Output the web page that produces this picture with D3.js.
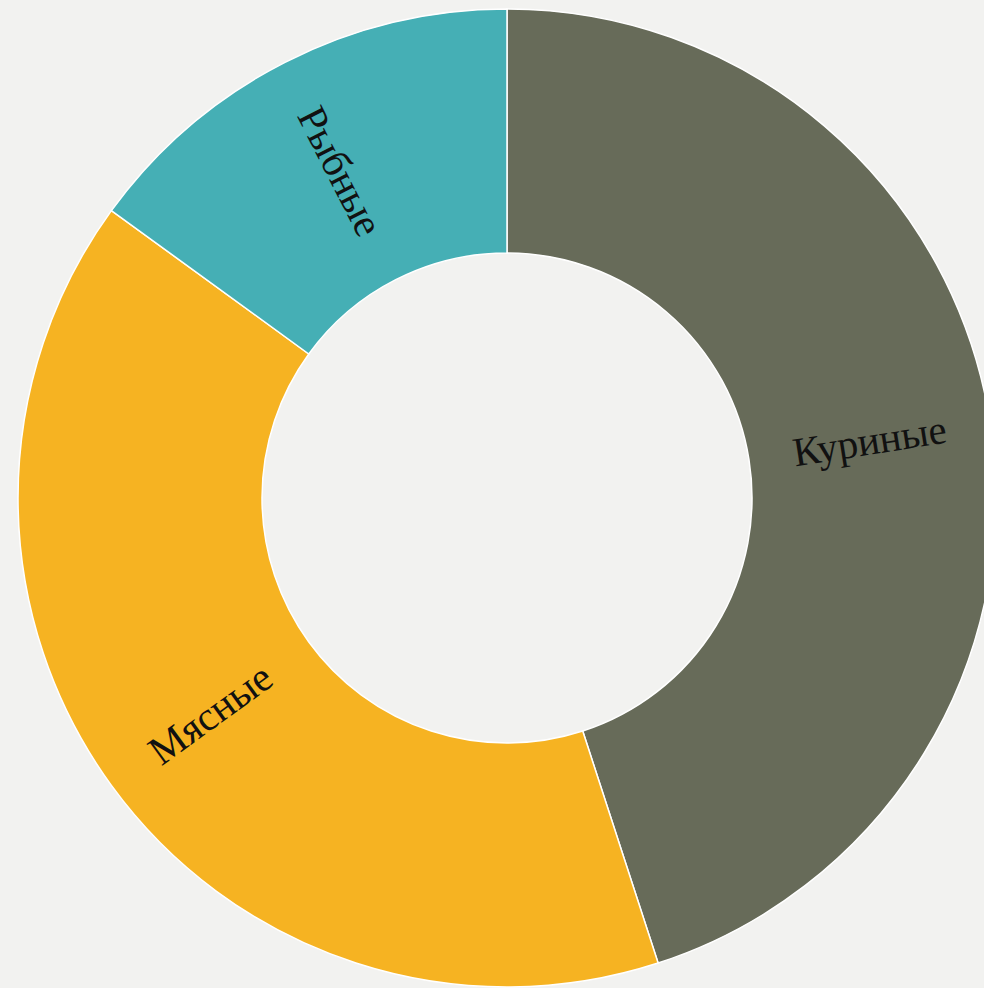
<!DOCTYPE html>
<html><head><meta charset="utf-8">
<script src="https://cdn.jsdelivr.net/npm/d3@7"></script>
<style>html,body{margin:0;padding:0;background:#f2f2f0;}svg{display:block;}</style>
</head><body>
<script>
const categories = ["Куриные", "Мясные", "Рыбные"];
const values = [45, 40, 15];
const colors = ["#676b59", "#f6b322", "#45afb5"];

const W = 984, H = 988, cx = 507, cy = 498, rOuter = 489, rInner = 245;
const svg = d3.select("body").append("svg").attr("width", W).attr("height", H);
svg.append("rect").attr("width", W).attr("height", H).attr("fill", "#f2f2f0");
const g = svg.append("g").attr("transform", `translate(${cx},${cy})`);

const data = categories.map((c, i) => ({ name: c, value: values[i], color: colors[i] }));
const pie = d3.pie().value(d => d.value).sort(null);
const arc = d3.arc().innerRadius(rInner).outerRadius(rOuter);
const arcs = pie(data);

g.selectAll("path").data(arcs).enter().append("path")
  .attr("d", arc).attr("fill", d => d.data.color)
  .attr("stroke", "#ffffff").attr("stroke-width", 1.5);

g.selectAll("text").data(arcs).enter().append("text")
  .attr("transform", d => {
    const [x, y] = arc.centroid(d);
    const mid = (d.startAngle + d.endAngle) / 2 * 180 / Math.PI;
    let rot = mid - 90;
    if (rot > 90) rot -= 180;
    return `translate(${x},${y}) rotate(${rot})`;
  })
  .attr("text-anchor", "middle").attr("dominant-baseline", "central")
  .attr("font-family", "'Liberation Serif', 'Times New Roman', serif")
  .attr("font-size", 41).attr("fill", "#111")
  .text(d => d.data.name);
</script>
</body></html>
